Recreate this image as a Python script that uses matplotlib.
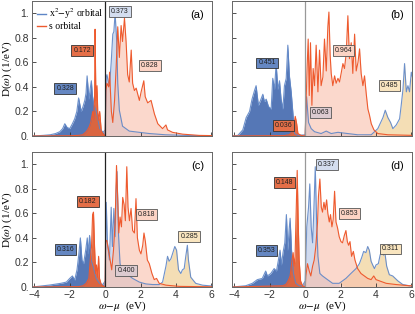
import numpy as np
import matplotlib
matplotlib.use("Agg")
import matplotlib.pyplot as plt

plt.rcParams['font.family'] = ['Liberation Sans', 'DejaVu Sans']
plt.rcParams['mathtext.fontset'] = 'stix'

# ---- data ----
# panel (a)
a_blue_x = [-4.1, -3.5, -3.1, -2.8, -2.56, -2.4, -2.28, -2.15, -2.0, -1.85, -1.72, -1.6, -1.5, -1.42, -1.35,
            -1.25, -1.15, -1.08, -1.02, -0.96, -0.91, -0.85, -0.78, -0.72, -0.65, -0.5, -0.31, -0.12, 0.0,
            0.06, 0.1, 0.18, 0.25, 0.34, 0.43, 0.49, 0.56, 0.65, 0.71, 0.8, 0.98, 1.36, 1.92, 2.5, 3.4,
            4.5, 5.3, 6.1]
a_blue_y = [0.0, 0.005, 0.01, 0.02, 0.035, 0.06, 0.10, 0.07, 0.06, 0.10, 0.14, 0.2, 0.31, 0.25, 0.2,
            0.24, 0.29, 0.35, 0.49, 0.38, 0.3, 0.38, 0.45, 0.33, 0.26, 0.2, 0.06, 0.03, 0.05,
            0.48, 0.5, 0.44, 0.41, 0.6, 0.83, 0.85, 1.0, 0.78, 0.43, 0.21, 0.08, 0.04, 0.03, 0.02, 0.01,
            0.005, 0.003, 0.002]
a_s_x = [-4.1, -2.0, -1.5, -1.27, -1.1, -0.99, -0.88, -0.8, -0.7, -0.65, -0.6, -0.57, -0.54, -0.52, -0.46,
         -0.42, -0.39, -0.31, -0.22, -0.09, 0.0, 0.04, 0.1, 0.2, 0.25, 0.35, 0.43, 0.53, 0.62, 0.71, 0.8,
         0.9, 0.98, 1.09, 1.18, 1.27, 1.36, 1.47, 1.55, 1.65, 1.75, 1.93, 2.03, 2.18, 2.26, 2.4, 2.59,
         2.78, 2.97, 3.24, 3.43, 3.52, 3.8, 4.37, 5.3, 6.1]
a_s_y = [0.0, 0.002, 0.005, 0.01, 0.03, 0.05, 0.08, 0.12, 0.2, 0.13, 0.3, 0.87, 0.5, 0.29, 0.41,
         0.2, 0.13, 0.2, 0.04, 0.01, 0.0, 0.37, 0.43, 0.4, 0.52, 0.2, 0.11, 0.29, 0.56, 0.89, 0.64,
         0.9, 0.77, 0.96, 0.77, 0.5, 0.44, 0.7, 0.43, 0.37, 0.39, 0.29, 0.36, 0.45, 0.32, 0.27, 0.29,
         0.18, 0.1, 0.06, 0.09, 0.05, 0.03, 0.015, 0.005, 0.003]

# panel (b)
b_blue_x = [-4.18, -3.8, -3.52, -3.33, -3.14, -3.0, -2.86, -2.77, -2.64, -2.52, -2.39, -2.3, -2.2, -2.07,
            -1.92, -1.83, -1.73, -1.64, -1.54, -1.45, -1.36, -1.26, -1.17, -1.07, -0.98, -0.89, -0.79,
            -0.7, -0.6, -0.41, 0.0, 0.08, 0.19, 0.34, 0.53, 0.9, 1.19, 1.47, 1.85, 2.4, 2.97, 3.73, 4.1,
            4.39, 4.52, 4.67, 4.82, 4.95, 5.14, 5.33, 5.42, 5.52, 5.61, 5.71, 5.8, 5.89, 5.99, 6.1]
b_blue_y = [0.0, 0.005, 0.05, 0.15, 0.2, 0.3, 0.37, 0.41, 0.25, 0.29, 0.34, 0.28, 0.3, 0.24,
            0.22, 0.47, 0.38, 0.59, 0.38, 0.45, 0.3, 0.22, 0.41, 0.47, 0.74, 0.49, 0.36,
            0.2, 0.02, 0.005, 0.01, 0.32, 0.11, 0.06, 0.035, 0.02, 0.04, 0.02, 0.03, 0.02, 0.01, 0.01, 0.06,
            0.15, 0.21, 0.15, 0.11, 0.06, 0.09, 0.14, 0.25, 0.38, 0.59, 0.36, 0.41, 0.36, 0.52, 0.45]
b_s_x = [-4.18, -1.2, -0.9, -0.75, -0.65, -0.56, -0.48, -0.41, -0.23, 0.0, 0.04, 0.11, 0.17, 0.23, 0.3,
         0.38, 0.45, 0.53, 0.62, 0.72, 0.81, 0.9, 1.0, 1.09, 1.19, 1.28, 1.34, 1.41, 1.47, 1.56, 1.66,
         1.75, 1.85, 1.94, 2.03, 2.13, 2.22, 2.32, 2.41, 2.5, 2.6, 2.69, 2.79, 2.88, 2.98, 3.07, 3.16,
         3.26, 3.35, 3.45, 3.54, 3.63, 3.73, 3.88, 4.1, 4.67, 6.1]
b_s_y = [0.0, 0.003, 0.01, 0.03, 0.08, 0.16, 0.1, 0.02, 0.005, 0.0, 0.22, 0.56, 0.79, 0.33, 0.76,
         0.25, 0.55, 0.41, 0.74, 0.36, 0.7, 0.41, 0.48, 0.79, 0.53, 0.89, 1.01, 0.66, 0.51, 0.41, 0.49,
         0.43, 0.47, 0.44, 0.51, 0.59, 0.55, 0.68, 0.98, 0.63, 0.76, 0.51, 0.83, 0.53, 0.6, 0.71, 0.51,
         0.41, 0.49, 0.34, 0.22, 0.17, 0.1, 0.05, 0.02, 0.01, 0.005]

# panel (c)
c_blue_x = [-4.1, -3.13, -2.5, -2.19, -2.0, -1.85, -1.72, -1.59, -1.5, -1.4, -1.31, -1.22, -1.1, -1.01,
            -0.96, -0.88, -0.79, -0.69, -0.51, -0.32, -0.13, 0.0, 0.06, 0.13, 0.24, 0.34, 0.41, 0.49, 0.56,
            0.62, 0.67, 0.75, 0.84, 0.99, 1.27, 1.55, 1.93, 2.3, 2.68, 3.05, 3.24, 3.43, 3.52, 3.61, 3.71,
            3.8, 3.93, 4.03, 4.14, 4.27, 4.36, 4.46, 4.55, 4.64, 4.7, 4.83, 5.11, 5.49, 5.86, 6.1]
c_blue_y = [0.0, 0.016, 0.03, 0.04, 0.07, 0.09, 0.057, 0.14, 0.25, 0.4, 0.22, 0.19, 0.3, 0.4,
            0.27, 0.42, 0.22, 0.17, 0.07, 0.03, 0.02, 0.05, 0.69, 0.36, 0.22, 0.65, 0.33, 0.64, 0.41,
            0.79, 0.94, 0.44, 0.19, 0.11, 0.1, 0.07, 0.04, 0.025, 0.02, 0.02, 0.04, 0.17, 0.25, 0.21, 0.23,
            0.27, 0.33, 0.3, 0.14, 0.11, 0.14, 0.15, 0.25, 0.34, 0.22, 0.08, 0.03, 0.015, 0.01, 0.008]
c_s_x = [-4.1, -1.5, -1.25, -1.07, -0.92, -0.84, -0.77, -0.71, -0.66, -0.6, -0.54, -0.49, -0.43, -0.37,
         -0.32, -0.22, -0.09, 0.0, 0.02, 0.09, 0.19, 0.28, 0.37, 0.47, 0.56, 0.64, 0.71, 0.77, 0.84, 0.92,
         0.99, 1.07, 1.14, 1.22, 1.29, 1.37, 1.46, 1.55, 1.65, 1.74, 1.82, 1.93, 2.02, 2.12, 2.19, 2.27,
         2.38, 2.49, 2.64, 2.77, 2.9, 3.05, 3.43, 4.18, 5.86, 6.1]
c_s_y = [0.0, 0.003, 0.01, 0.03, 0.07, 0.22, 0.33, 0.59, 0.61, 0.33, 0.11, 0.18, 0.08, 0.25,
         0.07, 0.02, 0.005, 0.0, 0.37, 0.38, 0.3, 0.22, 0.14, 0.3, 0.52, 0.99, 0.71, 0.44, 0.57, 0.49,
         0.73, 0.67, 0.54, 0.98, 0.65, 0.54, 0.64, 0.46, 0.44, 0.72, 0.4, 0.3, 0.27, 0.34, 0.44, 0.37,
         0.22, 0.19, 0.11, 0.06, 0.07, 0.03, 0.015, 0.005, 0.002, 0.002]

# panel (d)
d_blue_x = [-4.1, -3.36, -2.98, -2.7, -2.42, -2.23, -2.13, -1.94, -1.75, -1.62, -1.51, -1.42, -1.34, -1.25,
            -1.15, -1.06, -0.98, -0.91, -0.85, -0.77, -0.66, -0.53, -0.34, -0.15, 0.0, 0.09, 0.19, 0.26,
            0.34, 0.42, 0.49, 0.57, 0.64, 0.72, 0.83, 0.98, 1.26, 1.55, 1.92, 2.3, 2.58, 2.87, 3.06, 3.19,
            3.3, 3.43, 3.53, 3.62, 3.72, 3.81, 3.91, 4.0, 4.13, 4.23, 4.34, 4.42, 4.49, 4.6, 4.75, 4.94,
            5.23, 5.51, 5.89, 6.1]
d_blue_y = [0.0, 0.01, 0.03, 0.06, 0.07, 0.13, 0.09, 0.11, 0.15, 0.13, 0.22, 0.3, 0.18, 0.28,
            0.36, 0.59, 0.3, 0.46, 0.56, 0.3, 0.11, 0.03, 0.01, 0.01, 0.05, 0.49, 0.65, 0.84,
            0.49, 0.36, 0.63, 0.98, 0.57, 0.25, 0.11, 0.09, 0.06, 0.03, 0.03, 0.07, 0.11, 0.15, 0.19, 0.24,
            0.29, 0.28, 0.33, 0.3, 0.21, 0.18, 0.15, 0.18, 0.19, 0.26, 0.3, 0.26, 0.29, 0.17, 0.1, 0.09,
            0.05, 0.02, 0.01, 0.008]
d_s_x = [-4.1, -1.28, -1.09, -0.96, -0.85, -0.75, -0.68, -0.62, -0.57, -0.51, -0.45, -0.4, -0.34, -0.26,
         -0.15, 0.0, 0.04, 0.13, 0.23, 0.32, 0.42, 0.51, 0.6, 0.7, 0.75, 0.83, 0.91, 0.98, 1.06, 1.13,
         1.21, 1.28, 1.36, 1.43, 1.51, 1.58, 1.66, 1.74, 1.83, 1.92, 2.02, 2.11, 2.21, 2.3, 2.38, 2.45,
         2.53, 2.62, 2.72, 2.81, 2.96, 3.15, 3.34, 3.53, 3.72, 3.87, 4.0, 4.19, 4.57, 5.13, 5.89, 6.1]
d_s_y = [0.0, 0.01, 0.02, 0.05, 0.09, 0.21, 0.28, 0.17, 0.25, 0.6, 0.95, 0.57, 0.22, 0.05,
         0.01, 0.0, 0.09, 0.19, 0.13, 0.09, 0.17, 0.22, 0.33, 0.53, 0.74, 0.88, 0.65, 0.61, 0.69, 0.63,
         0.71, 0.6, 0.53, 0.59, 0.49, 0.55, 0.78, 0.53, 0.48, 0.41, 0.37, 0.36, 0.42, 0.46, 0.37, 0.34,
         0.37, 0.25, 0.29, 0.22, 0.15, 0.11, 0.09, 0.07, 0.06, 0.09, 0.06, 0.05, 0.03, 0.02, 0.01, 0.01]

# weights printed in the boxes
a_weights = ['0.328', '0.172', '0.373', '0.828']
b_weights = ['0.451', '0.036', '0.063', '0.964', '0.485']
c_weights = ['0.316', '0.182', '0.400', '0.818', '0.285']
d_weights = ['0.353', '0.148', '0.337', '0.853', '0.311']

# ---- styles ----
BLUE_LINE = '#5d85c6'
BLUE_DARK = '#5577b6'
BLUE_LIGHT = '#bccbe7'
S_LINE = '#ee5a2e'
S_DARK = '#e2643a'
S_LIGHT = '#f9bfab'
TAN = '#f1d49c'

BOX = {
    'blue': ('#6587c2', '#333333'),
    'orange': ('#e56f48', '#333333'),
    'lblue': ('#d3ddef', '#555555'),
    'pink': ('#fcd3c4', '#555555'),
    'gray': ('#dccbd0', '#555555'),
    'tan': ('#f9e5bf', '#555555'),
}


def draw_panel(ax, bx, by, sx, sy, tan_cut, zero_color):
    bx, by, sx, sy = map(np.asarray, (bx, by, sx, sy))
    # x^2-y^2 orbital
    ax.fill_between(bx, by, where=bx <= 0, color=BLUE_DARK, lw=0, interpolate=True)
    ax.fill_between(bx, by, where=(bx >= 0) & (bx <= tan_cut), color=BLUE_LIGHT, alpha=0.7,
                    lw=0, interpolate=True)
    ax.fill_between(bx, by, where=bx >= tan_cut, color=TAN, alpha=0.75, lw=0, interpolate=True)
    # s orbital
    ax.fill_between(sx, sy, where=sx <= 0, color=S_DARK, alpha=0.95, lw=0, interpolate=True)
    ax.fill_between(sx, sy, where=sx >= 0, color=S_LIGHT, alpha=0.6, lw=0, interpolate=True)
    ax.plot(bx, by, color=BLUE_LINE, lw=0.8, alpha=0.9)
    ax.plot(sx, sy, color=S_LINE, lw=0.8)
    ax.axvline(0, color=zero_color, lw=0.9)
    ax.set_xlim(-4.13, 6.03)
    ax.set_ylim(0, 1.1)
    ax.set_xticks([-4, -2, 0, 2, 4, 6])
    ax.set_yticks([0, 0.2, 0.4, 0.6, 0.8, 1.0])
    ax.tick_params(direction='in', length=3, width=0.6, labelsize=7.5, pad=2, colors='#333333')
    for sp in ax.spines.values():
        sp.set_color('#666666')
        sp.set_linewidth(0.7)


def put_box(ax, x, y, text, kind):
    fc, ec = BOX[kind]
    ax.text(x, y, text, ha='center', va='center', fontsize=5, color='#222222',
            bbox=dict(boxstyle='square,pad=0.28', fc=fc, ec=ec, lw=0.6))


fig = plt.figure(figsize=(4.15, 3.14), dpi=100)
W, H = 415.0, 314.0
axa = fig.add_axes([32 / W, 1 - 136 / H, 180 / W, 135 / H])
axb = fig.add_axes([232 / W, 1 - 136 / H, 180 / W, 135 / H])
axc = fig.add_axes([32 / W, 1 - 287 / H, 180 / W, 135 / H])
axd = fig.add_axes([232 / W, 1 - 287 / H, 180 / W, 135 / H])

draw_panel(axa, a_blue_x, a_blue_y, a_s_x, a_s_y, 99, '#222222')
draw_panel(axb, b_blue_x, b_blue_y, b_s_x, b_s_y, 3.0, '#999999')
draw_panel(axc, c_blue_x, c_blue_y, c_s_x, c_s_y, 3.2, '#222222')
draw_panel(axd, d_blue_x, d_blue_y, d_s_x, d_s_y, 2.0, '#999999')

# tick labels: left column only on y, bottom row only on x
def ylab(v):
    s = '%.1f' % v
    return s.replace('0.0', '0.').replace('1.0', '1.')

for ax in (axa, axc):
    ax.set_yticklabels([ylab(v) for v in [0, 0.2, 0.4, 0.6, 0.8, 1.0]])
    ax.set_ylabel(r'D($\omega$) (1/eV)', fontsize=8, family='Liberation Serif', labelpad=0.5)
for ax in (axb, axd):
    ax.set_yticklabels([])
for ax in (axa, axb):
    ax.set_xticklabels([])
for ax in (axc, axd):
    ax.set_xticklabels(['\u22124', '\u22122', '0', '2', '4', '6'])
    ax.set_xlabel(r'$\omega\!-\!\mu$  (eV)', fontsize=8, family='Liberation Serif', labelpad=0)

for ax, tag in zip((axa, axb, axc, axd), ['(a)', '(b)', '(c)', '(d)']):
    ax.text(0.955, 0.93, tag, transform=ax.transAxes, ha='right', va='top', fontsize=8)

# legend in panel (a)
axa.plot([], [], color=BLUE_LINE, lw=1.0, label=r'x$^2$$-$y$^2$ orbital')
axa.plot([], [], color=S_LINE, lw=1.0, label='s orbital')
axa.legend(loc='upper left', frameon=False, handlelength=0.9, handletextpad=0.3,
           borderaxespad=0.15, labelspacing=0.1, prop={'family': 'Liberation Serif', 'size': 7})

# weight boxes
put_box(axa, -2.25, 0.39, a_weights[0], 'blue')
put_box(axa, -1.3, 0.695, a_weights[1], 'orange')
put_box(axa, 0.83, 1.018, a_weights[2], 'lblue')
put_box(axa, 2.52, 0.573, a_weights[3], 'pink')

put_box(axb, -2.15, 0.595, b_weights[0], 'blue')
put_box(axb, -1.23, 0.087, b_weights[1], 'orange')
put_box(axb, 0.86, 0.19, b_weights[2], 'gray')
put_box(axb, 2.17, 0.697, b_weights[3], 'pink')
put_box(axb, 4.77, 0.41, b_weights[4], 'tan')

put_box(axc, -2.25, 0.305, c_weights[0], 'blue')
put_box(axc, -0.97, 0.697, c_weights[1], 'orange')
put_box(axc, 1.18, 0.138, c_weights[2], 'gray')
put_box(axc, 2.35, 0.59, c_weights[3], 'pink')
put_box(axc, 4.74, 0.415, c_weights[4], 'tan')

put_box(axd, -2.19, 0.30, d_weights[0], 'blue')
put_box(axd, -1.16, 0.85, d_weights[1], 'orange')
put_box(axd, 1.23, 1.0, d_weights[2], 'lblue')
put_box(axd, 2.5, 0.6, d_weights[3], 'pink')
put_box(axd, 4.8, 0.31, d_weights[4], 'tan')

fig.savefig('out.png', dpi=100)
